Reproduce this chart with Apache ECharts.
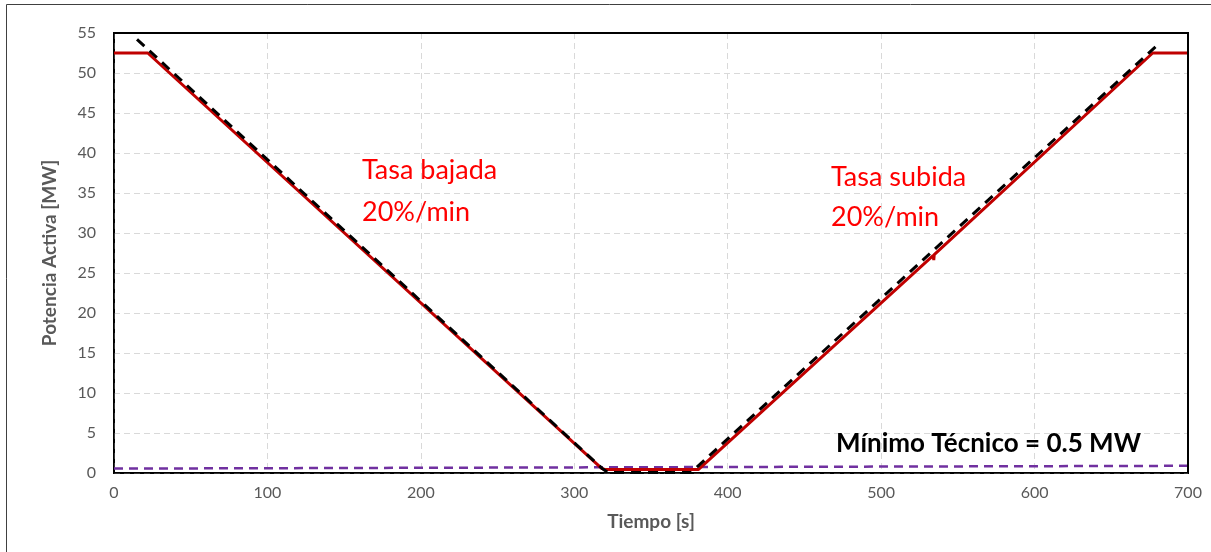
<!DOCTYPE html>
<html>
<head>
<meta charset="utf-8">
<script src="https://cdn.jsdelivr.net/npm/echarts@6/dist/echarts.min.js"></script>
<style>
  html, body { margin: 0; padding: 0; background: #fff; }
  #chart { width: 1211px; height: 552px; }
</style>
</head>
<body>
<div id="chart"></div>
<script>
// Potencia medida [s, MW]
const potenciaMedida = [
  [0, 52.5], [22, 52.5], [318, 0.55], [320, 0.45], [381, 0.45],
  [534, 27.2], [534.3, 26.6], [534.6, 27.3], [677, 52.5], [700, 52.5]
];
// Consigna de rampa [s, MW]
const consignaRampa = [
  [15, 54.2], [318, 0.6], [322, 0.05], [376, 0.05], [679, 53.3]
];
// Mínimo técnico [s, MW]
const minimoTecnico = [[0, 0.55], [700, 0.9]];

const xTicks = [0, 100, 200, 300, 400, 500, 600, 700];
const yTicks = [0, 5, 10, 15, 20, 25, 30, 35, 40, 45, 50, 55];

const font = 'Lato, "Open Sans", sans-serif';
const chart = echarts.init(document.getElementById('chart'));

const xMin = xTicks[0], xMax = xTicks[xTicks.length - 1];
const yMin = yTicks[0], yMax = yTicks[yTicks.length - 1];

function label(text, left, top, size, color, weight) {
  return {
    type: 'text', left: left, top: top, z: 20,
    style: { text: text, fill: color, fontFamily: font, fontSize: size, fontWeight: weight || 'normal' }
  };
}

chart.setOption({
  animation: false,
  grid: {
    left: 114, right: 23, top: 33, bottom: 79,
    show: true, borderColor: '#000000', borderWidth: 2
  },
  xAxis: {
    type: 'value',
    min: xMin, max: xMax, interval: 100,
    name: 'Tiempo [s]', nameLocation: 'middle', nameGap: 39,
    nameTextStyle: { fontFamily: font, fontSize: 19, fontWeight: 'bold', color: '#595959' },
    axisLine: { show: true, onZero: false, lineStyle: { color: '#000', width: 1.5 } },
    axisTick: { show: false },
    axisLabel: { fontFamily: font, fontSize: 16, color: '#595959', margin: 12 },
    splitLine: { show: true, lineStyle: { color: '#d9d9d9', type: [6, 4], width: 1 } }
  },
  yAxis: {
    type: 'value',
    min: yMin, max: yMax, interval: 5,
    name: 'Potencia Activa [MW]', nameLocation: 'middle', nameGap: 55,
    nameTextStyle: { fontFamily: font, fontSize: 19, fontWeight: 'bold', color: '#595959' },
    axisLine: { show: true, onZero: false, lineStyle: { color: '#000', width: 1.5 } },
    axisTick: { show: false },
    axisLabel: { fontFamily: font, fontSize: 16, color: '#595959', margin: 18 },
    splitLine: { show: true, lineStyle: { color: '#d9d9d9', type: [6, 4], width: 1 } }
  },
  series: [
    {
      name: 'Mínimo técnico', type: 'line', data: minimoTecnico,
      symbol: 'none', z: 2, clip: false,
      lineStyle: { color: '#7030a0', width: 2.5, type: [9, 6] },
      // top and right edges of the plot frame
      markLine: {
        symbol: 'none',
        label: { show: false },
        lineStyle: { color: '#000000', width: 2, type: 'solid' },
        data: [{ yAxis: yMax }, { xAxis: xMax }]
      }
    },
    {
      name: 'Potencia', type: 'line', data: potenciaMedida,
      symbol: 'none', z: 3,
      lineStyle: { color: '#c00000', width: 3 }
    },
    {
      name: 'Consigna', type: 'line', data: consignaRampa,
      symbol: 'none', z: 4,
      lineStyle: { color: '#000000', width: 3, type: [10, 7] }
    }
  ],
  graphic: [
    {
      type: 'rect', silent: true, z: -1,
      shape: { x: 6.5, y: 4.5, width: 1220, height: 560 },
      style: { fill: 'none', stroke: '#404040', lineWidth: 1 }
    },
    label('Tasa bajada', 362, 157, 27, '#ff0000'),
    label('20%/min', 362, 199, 27, '#ff0000'),
    label('Tasa subida', 831, 164, 27, '#ff0000'),
    label('20%/min', 831, 204, 27, '#ff0000'),
    label('Mínimo Técnico = 0.5 MW', 836, 431, 26, '#000000', 'bold')
  ]
});
</script>
</body>
</html>
